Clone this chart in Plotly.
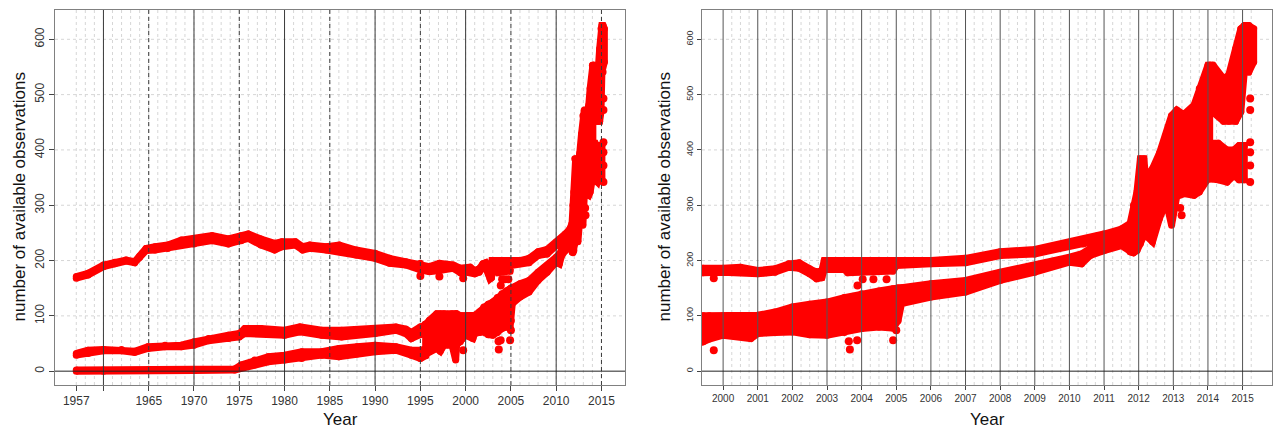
import plotly.graph_objects as go

# ---------------- data ----------------
# top track
t_year = [1957.0, 1958.3, 1960.0, 1961.25, 1962.5, 1963.45, 1964.0, 1964.7, 1965.7, 1967.1,
          1968.6, 1970.0, 1972.0, 1973.8, 1975.2, 1976.0, 1977.4, 1978.9, 1979.7, 1981.2,
          1982.0, 1982.8, 1984.6, 1986.05, 1987.9, 1990.0, 1991.6, 1993.4, 1995.0, 1996.0,
          1997.1, 1998.6, 1999.42, 2000.0, 2000.5, 2001.0, 2001.5, 2001.9, 2002.2, 2002.5,
          2002.7, 2002.85, 2002.92, 2003.5, 2003.6, 2004.0, 2004.5, 2004.9, 2005.0, 2006.0,
          2007.0, 2008.0, 2009.0, 2010.0, 2010.4, 2011.0, 2011.5, 2011.8]
t_low = [168, 174, 189, 194, 199, 196, 206, 218, 219, 222,
         228, 230, 236, 230, 236, 240, 228, 219, 225, 228,
         219, 222, 219, 216, 210, 204, 195, 192, 183, 180,
         182, 186, 178, 179, 179, 176, 179, 188, 186, 176,
         167, 169, 184, 184, 178, 181, 181, 181, 191, 194,
         196, 209, 212, 227, 230, 239, 248, 256]
t_high = [171, 177, 192, 197, 201, 198, 208, 222, 225, 228,
          237, 239, 245, 239, 245, 248, 239, 231, 234, 234,
          225, 228, 225, 228, 219, 213, 204, 198, 195, 189,
          195, 192, 186, 186, 188, 182, 185, 194, 196, 185,
          179, 182, 200, 200, 200, 200, 199, 199, 200, 200,
          204, 216, 220, 233, 238, 248, 257, 269]

# middle track
m_year = [1957.0, 1958.3, 1960.0, 1962.0, 1963.45, 1964.9, 1966.8, 1968.6, 1970.0, 1971.6,
          1973.8, 1975.0, 1975.6, 1977.4, 1980.0, 1981.7, 1984.1, 1986.3, 1990.0, 1992.3,
          1993.4, 1994.0, 1995.0, 1995.6]
m_low = [29, 32, 37, 37, 34, 41, 44, 44, 47, 55, 59, 62, 68, 68, 65, 71, 65, 62, 68, 74, 68, 59, 66, 71]
m_high = [32, 38, 39, 39, 36, 44, 47, 47, 53, 59, 65, 68, 77, 77, 74, 80, 74, 74, 76, 80, 76, 70, 80, 82]

# bottom track
b_year = [1957.0, 1960.0, 1965.0, 1970.0, 1974.5, 1975.2, 1976.7, 1978.2, 1980.0, 1981.9,
          1984.1, 1986.0, 1988.0, 1990.0, 1992.3, 1994.0, 1995.0, 1995.6]
b_low = [0, 0, 1, 1, 2, 6, 11, 17, 20, 23, 29, 26, 31, 35, 38, 29, 23, 28]
b_high = [2, 2, 3, 3, 4, 11, 20, 26, 29, 35, 35, 41, 44, 47, 44, 38, 38, 40]

# lower spread (1995 - 2011)
l_year = [1995.2, 1995.5, 1996.0, 1996.8, 1997.2, 1997.6, 1998.5, 1998.9, 1999.0, 1999.42,
          1999.6, 2000.0, 2000.8, 2001.0, 2001.5, 2002.0, 2002.5, 2003.0, 2003.5, 2004.0,
          2004.5, 2004.9, 2005.05, 2005.15, 2006.0, 2007.0, 2008.0, 2009.0, 2010.0, 2010.35,
          2010.6, 2011.0, 2011.5, 2011.8]
l_low = [25, 30, 36, 41, 36, 47, 47, 20, 47, 53,
         58, 65, 59, 68, 70, 71, 66, 65, 70, 77,
         80, 78, 91, 122, 134, 143, 164, 179, 197, 194,
         209, 218, 227, 215]
l_high = [78, 85, 92, 104, 104, 104, 104, 104, 104, 100,
          100, 100, 99, 101, 107, 116, 121, 125, 133, 140,
          145, 149, 151, 151, 158, 164, 179, 191, 206, 212,
          222, 230, 239, 244]

# final rise (2011.75 - 2014)
x_year = [2011.75, 2011.85, 2011.95, 2012.05, 2012.15, 2012.2, 2012.4, 2012.6, 2012.8, 2012.95,
          2013.1, 2013.3, 2013.6, 2013.75, 2014.0, 2014.05]
x_low = [216, 214, 218, 231, 246, 246, 234, 276, 306, 264, 316, 321, 318, 324, 348, 348]
x_high = [266, 300, 324, 384, 384, 350, 366, 394, 429, 462, 472, 464, 481, 511, 553, 553]

# 2014-2015 upper and lower parts
xu_year = [2014.05, 2014.15, 2014.45, 2014.6, 2014.8, 2014.95, 2015.05, 2015.18, 2015.32]
xu_low = [468, 468, 452, 452, 452, 469, 541, 541, 559]
xu_high = [553, 553, 529, 535, 583, 619, 625, 625, 619]
xl_year = [2014.05, 2014.3, 2014.55, 2014.75, 2014.9, 2015.05]
xl_low = [348, 346, 342, 354, 346, 346]
xl_high = [412, 412, 400, 400, 408, 408]

# isolated points
iso_year = [1995.0, 1997.1, 1999.73, 1999.73, 2003.63, 2003.66, 2003.87, 2003.88, 2004.03, 2004.34,
            2004.72, 2004.91, 2005.0, 2013.2, 2013.24, 2015.22, 2015.22, 2015.22, 2015.22, 2015.22,
            2015.22]
iso_obs = [172, 171, 38, 168, 54, 39, 56, 155, 166, 166,
           166, 56, 74, 295, 282, 493, 472, 414, 396, 372,
           342]

# axis ticks
left_xticks = [1957, 1960, 1965, 1970, 1975, 1980, 1985, 1990, 1995, 2000, 2005, 2010, 2015]
left_xlabels = ["1957", "", "1965", "1970", "1975", "1980", "1985", "1990", "1995",
                "2000", "2005", "2010", "2015"]
right_xticks = list(range(2000, 2016))
y_ticks = [0, 100, 200, 300, 400, 500, 600]

# ---------------- figure ----------------
RED = "#ff0000"
FONT = "Liberation Sans, Arial, sans-serif"
W, H = 1280, 430
fig = go.Figure()

bands = [(t_year, t_low, t_high), (m_year, m_low, m_high), (b_year, b_low, b_high),
         (l_year, l_low, l_high), (x_year, x_low, x_high),
         (xu_year, xu_low, xu_high), (xl_year, xl_low, xl_high)]

for xa, ya in (("x", "y"), ("x2", "y2")):
    for yr, lo, hi in bands:
        xs = list(yr) + list(yr)[::-1]
        ys = list(hi) + list(lo)[::-1]
        fig.add_trace(go.Scatter(
            x=xs, y=ys, mode="lines+markers", fill="toself", fillcolor=RED,
            line=dict(color=RED, width=7), marker=dict(size=7, color=RED),
            xaxis=xa, yaxis=ya, hoverinfo="skip", showlegend=False))
    fig.add_trace(go.Scatter(
        x=iso_year, y=iso_obs, mode="markers", marker=dict(size=8, color=RED),
        xaxis=xa, yaxis=ya, hoverinfo="skip", showlegend=False))

shapes = []
LIGHT = "#d6d6d6"
DARK = "#3a3a3a"


def vline(xref, yref, xv, color, dash, layer, width=1):
    shapes.append(dict(type="line", xref=xref, yref=yref + " domain", x0=xv, x1=xv, y0=0, y1=1,
                       line=dict(color=color, width=width, dash=dash), layer=layer))


def hline(xref, yref, yv, color, dash, layer, width=1):
    shapes.append(dict(type="line", xref=xref + " domain", yref=yref, x0=0, x1=1, y0=yv, y1=yv,
                       line=dict(color=color, width=width, dash=dash), layer=layer))


# left panel grid
for yr in range(1957, 2016):
    vline("x", "y", yr, LIGHT, "3px,3px", "below")
for yv in y_ticks[1:]:
    hline("x", "y", yv, LIGHT, "3px,3px", "below")
for yr in range(1960, 2011, 10):
    vline("x", "y", yr, DARK, "solid", "above")
for yr in range(1965, 2016, 10):
    vline("x", "y", yr, DARK, "4px,3px", "above")
hline("x", "y", 0, "#222222", "solid", "above")

# right panel grid
for q in range(1, 62):
    qv = 2000 + q * 0.25
    if q % 4 != 0:
        vline("x2", "y2", qv, LIGHT, "3px,3px", "below")
for yv in y_ticks[1:]:
    hline("x2", "y2", yv, LIGHT, "3px,3px", "below")
for yr in right_xticks:
    vline("x2", "y2", yr, "#555555", "solid", "above")
hline("x2", "y2", 0, "#222222", "solid", "above")

ydom = [1 - 385 / H, 1 - 10 / H]
axis_common = dict(showgrid=False, zeroline=False, showline=True, mirror=True,
                   linecolor="#808080", linewidth=1, ticks="outside", tickcolor="#444",
                   fixedrange=True)

fig.update_layout(
    width=W, height=H, margin=dict(l=0, r=0, t=0, b=0),
    paper_bgcolor="white", plot_bgcolor="white", showlegend=False,
    font=dict(family=FONT, color="#222"),
    shapes=shapes,
    xaxis=dict(domain=[55 / W, 625 / W], range=[1954.65, 2017.6], tickmode="array",
               tickvals=left_xticks, ticktext=left_xlabels, ticklen=5,
               tickfont=dict(size=12, color="#333"), anchor="y", **axis_common),
    yaxis=dict(domain=ydom, range=[-25, 653], tickmode="array", tickvals=y_ticks,
               tickangle=-90, ticklen=5, tickfont=dict(size=12, color="#333"),
               anchor="x", **axis_common),
    xaxis2=dict(domain=[702 / W, 1272 / W], range=[1999.39, 2015.85], tickmode="array",
                tickvals=right_xticks, ticklen=4, tickfont=dict(size=10, color="#333"),
                anchor="y2", **axis_common),
    yaxis2=dict(domain=ydom, range=[-25, 653], tickmode="array", tickvals=y_ticks,
                tickangle=-90, ticklen=4, tickfont=dict(size=9, color="#333"),
                anchor="x2", **axis_common),
)

ymid = 1 - 197.5 / H
for xpix, xc in ((19, 340), (664, 987)):
    fig.add_annotation(text="number of available observations", xref="paper", yref="paper",
                       x=xpix / W, y=ymid, textangle=-90, showarrow=False,
                       font=dict(size=17, color="#111", family=FONT),
                       xanchor="center", yanchor="middle")
    fig.add_annotation(text="Year", xref="paper", yref="paper", x=xc / W, y=1 - 419 / H,
                       showarrow=False, font=dict(size=17, color="#111", family=FONT),
                       xanchor="center", yanchor="middle")

fig.write_html("out.html", config={"displayModeBar": False},
               post_script="document.body.style.margin='0px';")
